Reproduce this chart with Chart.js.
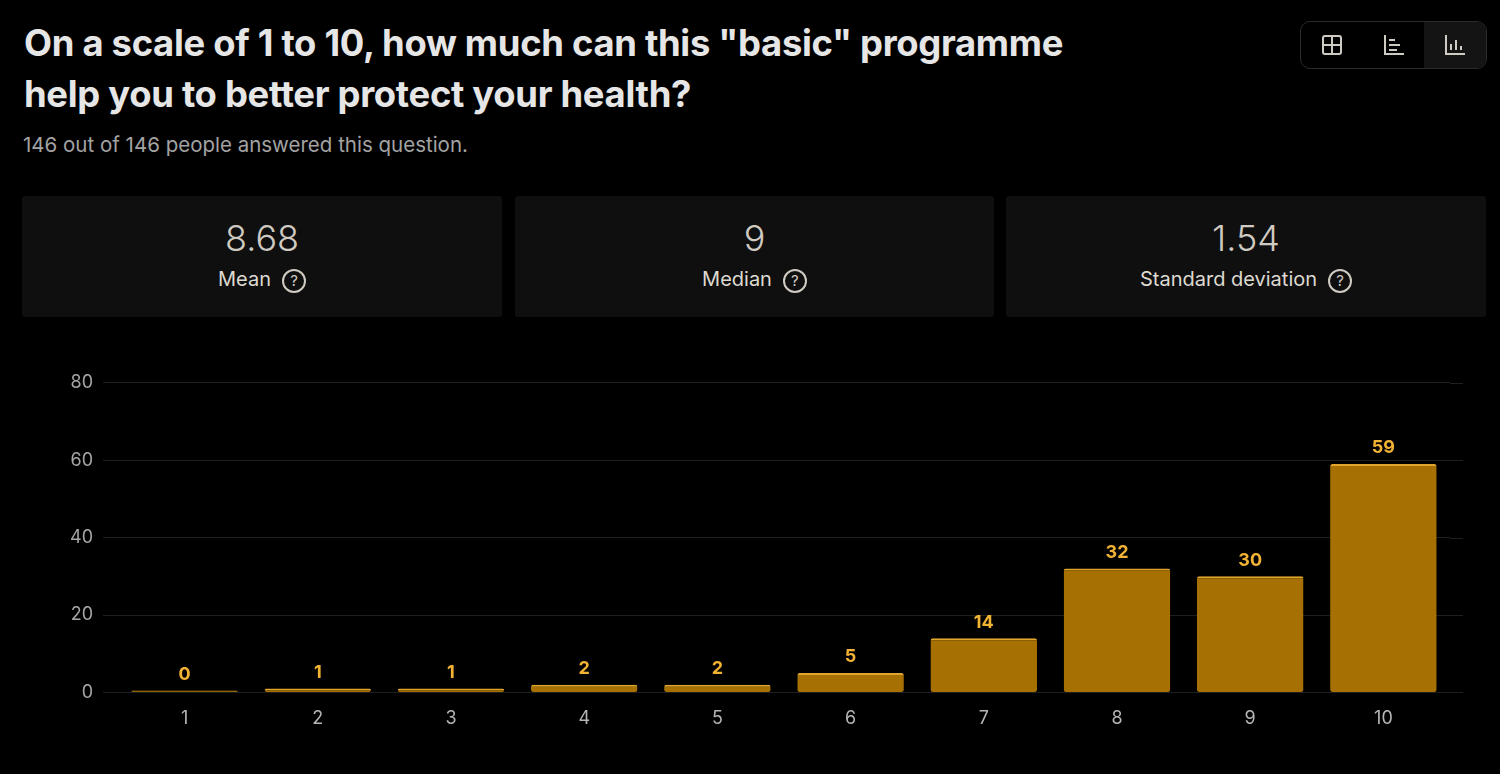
<!DOCTYPE html>
<html>
<head>
<meta charset="utf-8">
<script src="https://cdn.jsdelivr.net/npm/chart.js@4.4.0/dist/chart.umd.min.js"></script>
<style>
  html, body { margin: 0; padding: 0; background: #000; }
  body { width: 1500px; height: 774px; position: relative; overflow: hidden; font-family: Inter, "Noto Sans", sans-serif; }
  h1 { position: absolute; left: 24px; top: 18px; margin: 0; width: 1100px; font-size: 36.4px; line-height: 51px; font-weight: 700; color: #e6e6e6; letter-spacing: -0.3px; }
  .sub { position: absolute; left: 23px; top: 132px; font-size: 20.5px; color: #a3a3a3; }
  .stat { position: absolute; top: 196px; height: 121px; background: #0f0f0f; border-radius: 3px; text-align: center; }
  .stat .v { margin-top: 21px; font-size: 36px; font-weight: 300; color: #cfcbc2; line-height: 42px; }
  .stat .l { margin-top: 6px; font-size: 20px; color: #dedad2; line-height: 28px; }
  .stat .q { display: inline-block; width: 20px; height: 20px; border: 2px solid #cfcbc2; border-radius: 50%; font-size: 15px; line-height: 20px; margin-left: 11px; vertical-align: 0px; color: #cfcbc2; }
  .tog { position: absolute; left: 1300px; top: 21px; width: 185px; height: 46px; border: 1px solid #2b2b2b; border-radius: 10px; overflow: hidden; display: flex; }
  .tog div { flex: 1; display: flex; align-items: center; justify-content: center; }
  .tog .on { background: #141414; }
  #wrap { position: absolute; left: 40px; top: 362px; width: 1440px; height: 374px; }
</style>
</head>
<body>
<h1>On a scale of 1 to 10, how much can this "basic" programme help you to better protect your health?</h1>
<div class="sub">146 out of 146 people answered this question.</div>

<div class="stat" style="left:22px;width:480px"><div class="v">8.68</div><div class="l">Mean<span class="q">?</span></div></div>
<div class="stat" style="left:515px;width:479px"><div class="v">9</div><div class="l">Median<span class="q">?</span></div></div>
<div class="stat" style="left:1006px;width:480px"><div class="v">1.54</div><div class="l">Standard deviation<span class="q">?</span></div></div>

<div class="tog">
  <div><svg width="22" height="22" viewBox="0 0 22 22" fill="none" stroke="#cfcbc2" stroke-width="2"><rect x="2" y="2" width="18" height="18" rx="2"/><line x1="11" y1="2" x2="11" y2="20"/><line x1="2" y1="11" x2="20" y2="11"/></svg></div>
  <div><svg width="22" height="22" viewBox="0 0 22 22" fill="none" stroke="#cfcbc2" stroke-width="2"><polyline points="2,1 2,20 21,20"/><line x1="6" y1="6" x2="12" y2="6"/><line x1="6" y1="11" x2="17" y2="11"/><line x1="6" y1="16" x2="14" y2="16"/></svg></div>
  <div class="on"><svg width="22" height="22" viewBox="0 0 22 22" fill="none" stroke="#cfcbc2" stroke-width="2"><polyline points="2,1 2,20 21,20"/><line x1="7" y1="16" x2="7" y2="10"/><line x1="12" y1="16" x2="12" y2="6"/><line x1="17" y1="16" x2="17" y2="12"/></svg></div>
</div>

<div id="wrap"><canvas id="chart"></canvas></div>

<script>
var scores = ["1", "2", "3", "4", "5", "6", "7", "8", "9", "10"];
var answers = [0, 1, 1, 2, 2, 5, 14, 32, 30, 59];
var yTicks = [0, 20, 40, 60, 80];

// grid lines run a little past the plot on the right
var gridTail = {
    id: "gridTail",
    beforeDatasetsDraw: function (chart) {
        var ctx = chart.ctx, y = chart.scales.y, right = chart.chartArea.right;
        ctx.save();
        ctx.strokeStyle = "#1f1f1f";
        ctx.lineWidth = 1;
        yTicks.forEach(function (v) {
            var py = Math.round(y.getPixelForValue(v)) + 0.5;
            ctx.beginPath();
            ctx.moveTo(right, py);
            ctx.lineTo(right + 13, py);
            ctx.stroke();
        });
        ctx.restore();
    }
};

// value on top of each bar
var valueLabels = {
    id: "valueLabels",
    afterDatasetsDraw: function (chart) {
        var ctx = chart.ctx;
        var meta = chart.getDatasetMeta(0);
        ctx.save();
        ctx.font = "700 18px Inter";
        ctx.fillStyle = "#f2b233";
        ctx.textAlign = "center";
        ctx.textBaseline = "bottom";
        meta.data.forEach(function (bar, i) {
            ctx.fillText(answers[i], bar.x, bar.y - 7);
        });
        ctx.restore();
    }
};

var ctx = document.getElementById("chart").getContext("2d");
var myChart = new Chart(ctx, {
    type: "bar",
    data: {
        labels: scores,
        datasets: [{
            data: answers,
            backgroundColor: "#a67102",
            borderColor: "#e0a52c",
            borderWidth: { top: 2, left: 0, right: 0, bottom: 0 },
            borderSkipped: false,
            borderRadius: 2,
            minBarLength: 2,
            barPercentage: 0.8,
            categoryPercentage: 1
        }]
    },
    options: {
        responsive: true,
        maintainAspectRatio: false,
        animation: false,
        layout: { padding: { top: 10, right: 30, left: 20, bottom: 0 } },
        plugins: { legend: { display: false }, tooltip: { enabled: false } },
        scales: {
            x: {
                grid: { display: false },
                border: { display: false },
                ticks: { color: "#b5b5b5", font: { family: "Inter", size: 18 }, padding: 7 }
            },
            y: {
                min: 0,
                max: 80,
                afterBuildTicks: function (axis) {
                    axis.ticks = yTicks.map(function (v) { return { value: v }; });
                },
                grid: { color: "#1f1f1f", tickLength: 15, tickColor: "#1f1f1f" },
                border: { display: false },
                ticks: { color: "#a5a5a5", font: { family: "Inter", size: 18 }, padding: 10 }
            }
        }
    },
    plugins: [gridTail, valueLabels]
});
</script>
</body>
</html>
